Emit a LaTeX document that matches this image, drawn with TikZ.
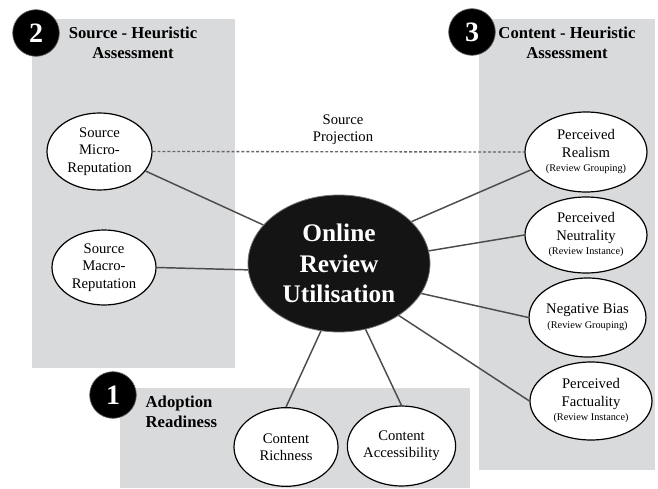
\documentclass[tikz,border=0pt]{standalone}
\usepackage{fontspec}
\setmainfont{Liberation Serif}
\newfontfamily\timesfont{Liberation Serif}
\usetikzlibrary{shapes.geometric}

\definecolor{zonegray}{RGB}{217,218,220}
\newcommand{\revnote}[1]{{\fontsize{7.7}{9}\selectfont #1}}

\tikzset{
  every node/.style={font=\timesfont},
  leaf/.style={ellipse, draw=black, line width=0.9pt, fill=white, inner sep=0pt,
    align=center, font=\timesfont\fontsize{11}{13}\selectfont},
  badge/.style={circle, fill=black, draw=black!60, line width=0.5pt, minimum size=35pt,
    inner sep=0pt, text=white, font=\timesfont\fontsize{21}{21}\selectfont\bfseries},
  heading/.style={align=center, font=\timesfont\fontsize{12.5}{15}\selectfont\bfseries},
  link/.style={line width=1.1pt, draw=black!70},
  projline/.style={line width=1pt, draw=black!60, dash pattern=on 2.2pt off 1.5pt},
}

\begin{document}
\begin{tikzpicture}[x=0.75pt, y=-0.75pt]
  \useasboundingbox (0,0) rectangle (658,489);

  % grey zones
  \fill[zonegray] (32,19) rectangle (235,368);
  \fill[zonegray] (479,19) rectangle (655,470);
  \fill[zonegray] (120,388) rectangle (470,488);

  % numbered badges and headings
  \node[badge] (b2) at (36,33) {2};
  \node[badge] (b3) at (472,32) {3};
  \node[badge] (b1) at (113,395) {1};
  \node[heading] (h2) at (133,43) {Source - Heuristic\\Assessment};
  \node[heading] (h3) at (567,43) {Content - Heuristic\\Assessment};
  \node[heading, align=left, anchor=west] (h1) at (141,412) {Adoption\\Readiness};

  % centre
  \node[ellipse, fill=black!92, draw=black!55, line width=0.6pt, inner sep=0pt,
    minimum width=136.5pt, minimum height=102.75pt, align=center, text=white,
    font=\timesfont\fontsize{19}{23}\selectfont\bfseries] (core) at (339,263.5)
    {Online\\Review\\Utilisation};

  % source heuristics
  \node[leaf, minimum width=78.75pt, minimum height=57.75pt] (micro) at (99.5,151.5)
    {Source\\Micro-\\Reputation};
  \node[leaf, minimum width=78pt, minimum height=56.25pt] (macro) at (104,267.5)
    {Source\\Macro-\\Reputation};

  % content heuristics
  \node[leaf, minimum width=91.5pt, minimum height=60pt] (realism) at (586,152)
    {Perceived\\Realism\\[-2pt]\revnote{(Review Grouping)}};
  \node[leaf, minimum width=91.5pt, minimum height=57pt] (neutral) at (586,235)
    {Perceived\\Neutrality\\[-2pt]\revnote{(Review Instance)}};
  \node[leaf, minimum width=86.25pt, minimum height=59.25pt] (negbias) at (587.5,317.5)
    {Negative Bias\\[-2pt]\revnote{(Review Grouping)}};
  \node[leaf, minimum width=91.5pt, minimum height=58.5pt] (factual) at (591,401)
    {Perceived\\Factuality\\[-2pt]\revnote{(Review Instance)}};

  % adoption readiness
  \node[leaf, minimum width=78pt, minimum height=59pt] (richness) at (286,447)
    {Content\\Richness};
  \node[leaf, minimum width=77pt, minimum height=60pt] (access) at (401.5,446)
    {Content\\Accessibility};

  % connectors
  \draw[link] (micro.337) -- (core.153);
  \draw[link] (macro.east) -- (core.184);
  \draw[link] (core.30) -- (realism.198);
  \draw[link] (core.8) -- (neutral.west);
  \draw[link] (core.340) -- (negbias.west);
  \draw[link] (core.319) -- (factual.west);
  \draw[link] (core.255) -- (richness.north);
  \draw[link] (core.292) -- (access.north);

  \draw[projline] (micro.east) -- (realism.west);
  \node[align=center, font=\timesfont\fontsize{11}{13}\selectfont] (projlabel) at (343,130)
    {Source\\Projection};
\end{tikzpicture}
\end{document}
